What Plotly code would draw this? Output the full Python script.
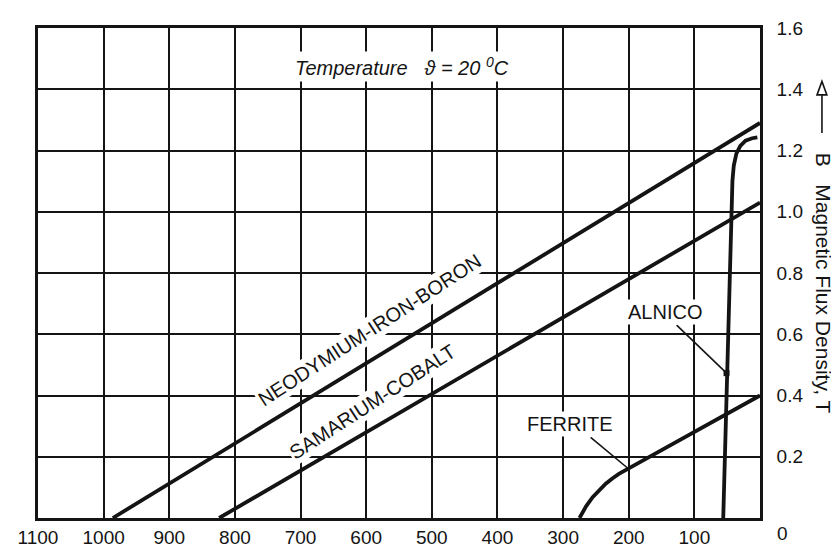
import plotly.graph_objects as go

# ---- data (H in kA/m, plotted as -H on a reversed axis; B in tesla) ----
x_ticks = [1100, 1000, 900, 800, 700, 600, 500, 400, 300, 200, 100]
x_tick_labels = ["1100", "1000", "900", "800", "700", "600", "500", "400", "300", "200", "100"]
y_ticks = [0.2, 0.4, 0.6, 0.8, 1.0, 1.2, 1.4, 1.6]
y_tick_labels = ["0.2", "0.4", "0.6", "0.8", "1.0", "1.2", "1.4", "1.6"]

ndfeb_H = [986, 0]
ndfeb_B = [0.0, 1.29]

smco_H = [824, 0]
smco_B = [0.0, 1.03]

ferrite_H = [275, 265, 255, 245, 235, 225, 215, 200, 100, 0]
ferrite_B = [0.0, 0.038, 0.068, 0.092, 0.112, 0.129, 0.144, 0.162, 0.282, 0.40]

alnico_H = [56, 51, 47, 44, 42, 40, 36, 30, 22, 12, 4]
alnico_B = [0.0, 0.4, 0.8, 1.0, 1.1, 1.15, 1.19, 1.215, 1.232, 1.24, 1.243]

# label anchor points (H, B)
label_text = ["NEODYMIUM-IRON-BORON", "SAMARIUM-COBALT", "ALNICO", "FERRITE"]
label_H = [595, 591, 144, 289]
label_B = [0.614, 0.379, 0.674, 0.307]
label_angle = [-33, -33, 0, 0]

# leader lines (H0, B0) -> (H1, B1)
leader_H0 = [127, 258]
leader_B0 = [0.63, 0.263]
leader_H1 = [51, 200]
leader_B1 = [0.473, 0.16]

temp_H = 545
temp_B = 1.473

FONT = "Liberation Sans, Arial, Helvetica, sans-serif"
INK = "#141414"

fig = go.Figure()
for hs, bs in [(ndfeb_H, ndfeb_B), (smco_H, smco_B), (ferrite_H, ferrite_B), (alnico_H, alnico_B)]:
    fig.add_trace(go.Scatter(x=hs, y=bs, mode="lines",
                             line=dict(color=INK, width=3.8),
                             showlegend=False, hoverinfo="skip"))

# alnico leader end dot
fig.add_trace(go.Scatter(x=[leader_H1[0]], y=[leader_B1[0]], mode="markers",
                         marker=dict(color=INK, size=6, symbol="square"),
                         showlegend=False, hoverinfo="skip"))

annotations = []
for t, h, b, a in zip(label_text, label_H, label_B, label_angle):
    annotations.append(dict(x=h, y=b, xref="x", yref="y", text=t, showarrow=False,
                            textangle=a, font=dict(family=FONT, size=20, color=INK),
                            bgcolor="white", borderpad=1))

annotations.append(dict(x=temp_H, y=temp_B, xref="x", yref="y",
                        text="<i>Temperature&nbsp;&nbsp;&nbsp;ϑ = 20 <sup>0</sup>C</i>",
                        showarrow=False, font=dict(family=FONT, size=20, color=INK),
                        bgcolor="white", borderpad=2))

# corner "0" label
annotations.append(dict(x=1, y=0, xref="paper", yref="paper", text="0", showarrow=False,
                        xanchor="center", yanchor="middle", xshift=22, yshift=-15,
                        font=dict(family=FONT, size=19, color=INK)))

# y-axis title (rotated, reading downward)
annotations.append(dict(x=1, y=0.48, xref="paper", yref="paper",
                        text="B&nbsp;&nbsp;&nbsp;Magnetic Flux Density, T",
                        showarrow=False, textangle=90, xshift=63,
                        xanchor="center", yanchor="middle",
                        font=dict(family=FONT, size=21, color=INK)))

shapes = []
for h0, b0, h1, b1 in zip(leader_H0, leader_B0, leader_H1, leader_B1):
    shapes.append(dict(type="line", xref="x", yref="y", x0=h0, y0=b0, x1=h1, y1=b1,
                       line=dict(color=INK, width=1.6)))

# arrow next to axis title
ax_x = 1.0858
shapes.append(dict(type="line", xref="paper", yref="paper", x0=ax_x, x1=ax_x,
                   y0=0.7856, y1=0.8635, line=dict(color=INK, width=1.6)))
shapes.append(dict(type="path", xref="paper", yref="paper",
                   path=f"M {ax_x-0.0068},0.8635 L {ax_x},0.891 L {ax_x+0.0068},0.8635 Z",
                   fillcolor="white", line=dict(color=INK, width=1.6)))

# page body has an 8px default margin, so the figure is sized/offset to compensate
fig.update_layout(
    width=831, height=550,
    margin=dict(l=18, r=79, t=10, b=27),
    paper_bgcolor="white", plot_bgcolor="white",
    font=dict(family=FONT, color=INK),
    annotations=annotations, shapes=shapes,
    xaxis=dict(range=[1100, 0], tickvals=x_ticks, ticktext=x_tick_labels,
               showgrid=True, gridcolor=INK, gridwidth=1.6, zeroline=False,
               showline=True, mirror=True, linecolor=INK, linewidth=2.6,
               ticks="", ticklabeloverflow="allow",
               tickfont=dict(size=19, family=FONT, color=INK)),
    yaxis=dict(range=[0, 1.6], tickvals=y_ticks, ticktext=y_tick_labels, side="right",
               showgrid=True, gridcolor=INK, gridwidth=1.6, zeroline=False,
               showline=True, mirror=True, linecolor=INK, linewidth=2.6,
               ticks="", ticklabelstandoff=10, ticklabeloverflow="allow",
               tickfont=dict(size=19, family=FONT, color=INK)),
)

fig.write_html("out.html")
